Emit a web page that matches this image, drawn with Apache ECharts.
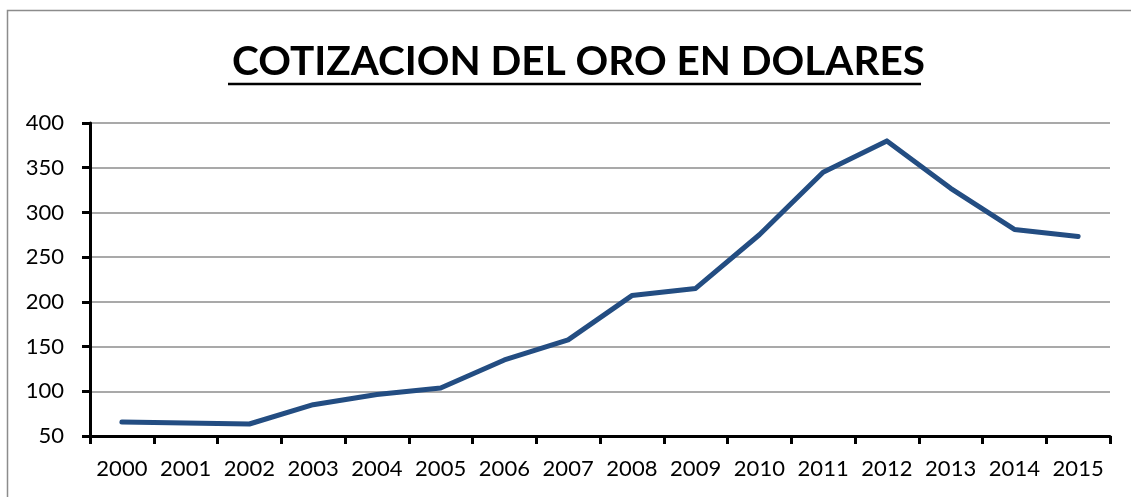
<!DOCTYPE html>
<html>
<head>
<meta charset="utf-8">
<script src="https://cdn.jsdelivr.net/npm/echarts@6/dist/echarts.min.js"></script>
<style>
  html, body { margin: 0; padding: 0; background: #fff; }
  #chart { width: 1131px; height: 497px; }
</style>
</head>
<body>
<div id="chart"></div>
<script>
// años
const years = ["2000", "2001", "2002", "2003", "2004", "2005", "2006", "2007",
  "2008", "2009", "2010", "2011", "2012", "2013", "2014", "2015"];
// cotizacion
const prices = [65.6, 64.5, 63.4, 85, 96.5, 103.7, 135, 157.5,
  207, 215, 275, 345, 380, 327, 281, 273];
const yTicks = [50, 100, 150, 200, 250, 300, 350, 400];

const chartTitle = "COTIZACION DEL ORO EN DOLARES";
const font = "Lato, 'Open Sans', sans-serif";

const myChart = echarts.init(document.getElementById("chart"));

const option = {
  animation: false,
  backgroundColor: "#fff",
  title: {
    text: chartTitle,
    left: 227,
    top: 36,
    textStyle: {
      fontFamily: font,
      fontWeight: "bold",
      fontSize: 40.5,
      color: "#000",
    },
  },
  // marco y subrayado del titulo
  graphic: [
    {
      type: "rect",
      shape: { x: 7.5, y: 10.5, width: 1200, height: 600 },
      style: { fill: null, stroke: "#8c8c8c", lineWidth: 1.5 },
      silent: true,
      z: -1,
    },
    {
      type: "line",
      shape: { x1: 228, y1: 84, x2: 921, y2: 84 },
      style: { stroke: "#000", lineWidth: 2.5 },
      silent: true,
    },
  ],
  grid: {
    left: 90,
    right: 21,
    top: 123,
    bottom: 61,
    containLabel: false,
  },
  xAxis: {
    type: "category",
    data: years,
    boundaryGap: true,
    axisLine: { lineStyle: { color: "#000", width: 3 } },
    axisTick: { show: true, length: 8, lineStyle: { color: "#000", width: 3 } },
    axisLabel: {
      interval: 0,
      margin: 22,
      color: "#000",
      fontFamily: font,
      fontSize: 22,
    },
    splitLine: { show: false },
  },
  yAxis: {
    type: "value",
    min: yTicks[0],
    max: yTicks[yTicks.length - 1],
    interval: 50,
    axisLine: { show: true, lineStyle: { color: "#000", width: 3 } },
    axisTick: { show: true, length: 8, lineStyle: { color: "#000", width: 3 } },
    axisLabel: {
      margin: 26,
      color: "#000",
      fontFamily: font,
      fontSize: 22,
    },
    splitLine: { show: true, lineStyle: { color: "#8c8c8c", width: 1.5 } },
  },
  series: [
    {
      name: "Oro",
      type: "line",
      data: prices,
      showSymbol: false,
      symbol: "none",
      lineStyle: { color: "#234d82", width: 5, cap: "round", join: "round" },
    },
  ],
};

myChart.setOption(option);
</script>
</body>
</html>
